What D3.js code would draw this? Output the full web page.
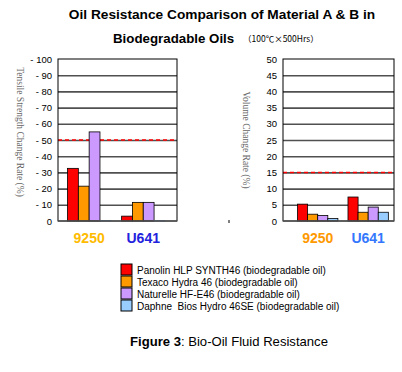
<!DOCTYPE html>
<html>
<head>
<meta charset="utf-8">
<script src="https://cdn.jsdelivr.net/npm/d3@7/dist/d3.min.js"></script>
<style>
body { margin:0; background:#fff; }
svg { display:block; font-family: "Liberation Sans", Arial, sans-serif; }
</style>
</head>
<body>
<div id="chart"></div>
<script>
// data
var materials = ["9250", "U641"];
var oils = ["Panolin HLP SYNTH46 (biodegradable oil)",
            "Texaco Hydra 46 (biodegradable oil)",
            "Naturelle HF-E46 (biodegradable oil)",
            "Daphne  Bios Hydro 46SE (biodegradable oil)"];
var oilColors = ["#ff0000", "#ff9900", "#cc99ff", "#99ccff"];
var tensile9250 = [-32.5, -21.5, -55, -0.3];
var tensileU641 = [-3, -11.5, -11.5, -0.3];
var volume9250 = [5.2, 2.1, 1.7, 0.8];
var volumeU641 = [7.4, 2.7, 4.3, 2.7];
var tensileLimit = -50;
var volumeLimit = 15;
var tensileTicks = [0, -10, -20, -30, -40, -50, -60, -70, -80, -90, -100];
var volumeTicks = [0, 5, 10, 15, 20, 25, 30, 35, 40, 45, 50];

var W = 402, H = 372;
var svg = d3.select("#chart").append("svg")
  .attr("width", W).attr("height", H);

// title
svg.append("text")
  .attr("x", 222).attr("y", 19)
  .attr("text-anchor", "middle")
  .attr("font-weight", "bold").attr("font-size", 13.7)
  .text("Oil Resistance Comparison of Material A & B in");
svg.append("text")
  .attr("x", 113).attr("y", 43)
  .attr("font-weight", "bold").attr("font-size", 13.3)
  .text("Biodegradable Oils");
svg.append("text")
  .attr("x", 243).attr("y", 42)
  .attr("font-family", "'Noto Sans CJK JP', sans-serif")
  .attr("font-size", 8.5)
  .text("\uff08100\u2103\u00d7500Hrs\uff09");

function drawPanel(opt) {
  var g = svg.append("g").attr("transform", "translate(" + opt.left + ",59)");
  var w = opt.width, h = 162;

  var y = d3.scaleLinear().domain(opt.domain).range([h, 0]);
  var x0 = d3.scaleBand().domain(materials).range([0, w])
    .paddingInner(0.2).paddingOuter(0.2).align(opt.align);
  var x1 = d3.scaleBand().domain(d3.range(oils.length)).range([0, x0.bandwidth()]);

  // grid lines
  g.append("g")
    .call(d3.axisLeft(y).tickValues(opt.ticks.slice(1, -1)).tickSize(-w).tickFormat(""))
    .call(function(a) {
      a.select(".domain").remove();
      a.selectAll("line").attr("stroke", "#505050").attr("stroke-width", 1.6);
    });

  // tick labels
  g.append("g")
    .call(d3.axisLeft(y).tickValues(opt.ticks).tickSize(0).tickPadding(6).tickFormat(opt.fmt))
    .call(function(a) {
      a.select(".domain").remove();
      a.selectAll("text").attr("font-size", 9.5).attr("fill", "#000")
        .attr("font-family", "'Liberation Sans', Arial, sans-serif");
    });

  // limit line
  g.append("line")
    .attr("x1", 0).attr("x2", w)
    .attr("y1", y(opt.limit)).attr("y2", y(opt.limit))
    .attr("stroke", "#ff0000").attr("stroke-width", 1.5)
    .attr("stroke-dasharray", "4,3");

  // bars
  var groups = g.selectAll(".grp")
    .data(materials)
    .enter().append("g")
    .attr("class", "grp")
    .attr("transform", function(d) { return "translate(" + x0(d) + ",0)"; });
  groups.selectAll("rect")
    .data(function(d, i) { return opt.values[i]; })
    .enter().append("rect")
    .attr("x", function(d, i) { return x1(i); })
    .attr("width", x1.bandwidth())
    .attr("y", function(d) { return y(d); })
    .attr("height", function(d) { return h - y(d); })
    .attr("fill", function(d, i) { return oilColors[i]; })
    .attr("stroke", function(d, i) { return i == 3 && Math.abs(d) < 0.5 ? oilColors[i] : "#000"; })
    .attr("stroke-width", 0.8);

  // frame
  g.append("rect")
    .attr("width", w).attr("height", h)
    .attr("fill", "none").attr("stroke", "#000").attr("stroke-width", 1);
  g.append("line")
    .attr("x1", 0).attr("x2", w).attr("y1", h).attr("y2", h)
    .attr("stroke", "#555").attr("stroke-width", 1.6);

  // category labels
  g.selectAll(".cat")
    .data(materials)
    .enter().append("text")
    .attr("x", function(d) { return x0(d) + x0.bandwidth() / 2; })
    .attr("y", h + 22)
    .attr("text-anchor", "middle")
    .attr("font-weight", "bold").attr("font-size", 14)
    .attr("fill", function(d, i) { return opt.catColors[i]; })
    .text(function(d) { return d; });

  // y title
  svg.append("text")
    .attr("transform", "translate(" + opt.titleX + "," + opt.titleY + ") rotate(90)")
    .attr("text-anchor", "middle")
    .attr("font-family", "'Liberation Serif', 'Times New Roman', serif")
    .attr("font-size", 9.5).attr("fill", "#666")
    .text(opt.title);
}

drawPanel({
  left: 58, width: 119, domain: [0, -100], ticks: tensileTicks,
  fmt: function(d) { return d == 0 ? "0" : "- " + Math.abs(d); },
  values: [tensile9250, tensileU641], limit: tensileLimit, align: 0.44,
  catColors: ["#ffbb00", "#2222dd"],
  title: "Tensile Strength Change Rate (%)", titleX: 17, titleY: 132
});

drawPanel({
  left: 283, width: 111, domain: [0, 50], ticks: volumeTicks,
  fmt: function(d) { return d; },
  values: [volume9250, volumeU641], limit: volumeLimit, align: 0.72,
  catColors: ["#ff9900", "#3377ff"],
  title: "Volume Change Rate (%)", titleX: 243, titleY: 140
});

// stray tick mark between panels
svg.append("line")
  .attr("x1", 229).attr("x2", 229).attr("y1", 220).attr("y2", 223)
  .attr("stroke", "#000").attr("stroke-width", 1);

// legend
var legend = svg.append("g").attr("transform", "translate(121,264)");
var items = legend.selectAll("g")
  .data(oils)
  .enter().append("g")
  .attr("transform", function(d, i) { return "translate(0," + (i * 12) + ")"; });
items.append("rect")
  .attr("width", 11).attr("height", 11)
  .attr("fill", function(d, i) { return oilColors[i]; })
  .attr("stroke", "#000").attr("stroke-width", 1);
items.append("text")
  .attr("x", 16).attr("y", 9.5)
  .attr("font-size", 10)
  .style("white-space", "pre")
  .text(function(d) { return d; });

// caption
var cap = svg.append("text")
  .attr("x", 130).attr("y", 346)
  .attr("font-size", 13.1);
cap.append("tspan").attr("font-weight", "bold").text("Figure 3");
cap.append("tspan").text(": Bio-Oil Fluid Resistance");
</script>
</body>
</html>
